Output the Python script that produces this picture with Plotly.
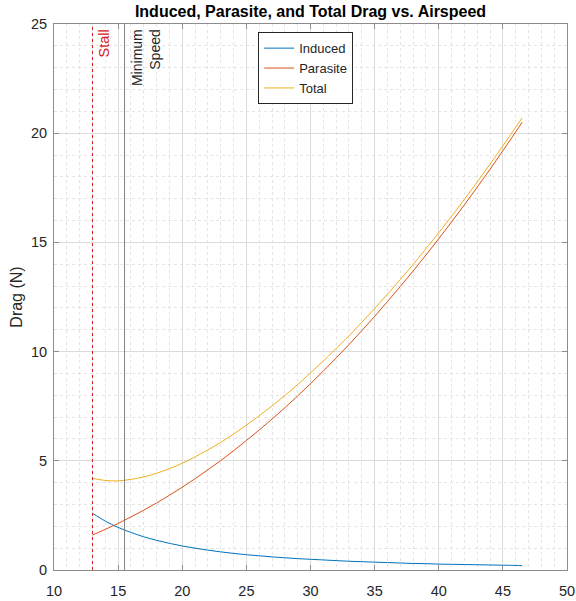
import plotly.graph_objects as go

# Airspeed samples (m/s) and drag components (N)
airspeed = [13, 14, 15, 16, 17, 18, 19, 20, 21, 22, 23, 24, 25, 26, 27, 28, 29, 30,
            31, 32, 33, 34, 35, 36, 37, 38, 39, 40, 41, 42, 43, 44, 45, 46, 46.5]
induced = [2.60, 2.24, 1.95, 1.72, 1.52, 1.36, 1.22, 1.10, 1.00, 0.91, 0.83, 0.76,
           0.70, 0.65, 0.60, 0.56, 0.52, 0.49, 0.46, 0.43, 0.40, 0.38, 0.36, 0.34,
           0.32, 0.30, 0.29, 0.27, 0.26, 0.25, 0.24, 0.23, 0.22, 0.21, 0.20]
parasite = [1.60, 1.86, 2.13, 2.43, 2.74, 3.07, 3.42, 3.79, 4.18, 4.59, 5.01, 5.46,
            5.93, 6.41, 6.91, 7.43, 7.97, 8.53, 9.11, 9.71, 10.32, 10.96, 11.61, 12.29,
            12.98, 13.69, 14.42, 15.17, 15.94, 16.72, 17.53, 18.35, 19.20, 20.06, 20.50]
total = [4.20, 4.10, 4.08, 4.15, 4.26, 4.43, 4.64, 4.89, 5.18, 5.50, 5.84, 6.22,
         6.63, 7.06, 7.51, 7.99, 8.49, 9.02, 9.57, 10.14, 10.72, 11.34, 11.97, 12.63,
         13.30, 13.99, 14.71, 15.44, 16.20, 16.97, 17.77, 18.58, 19.42, 20.27, 20.70]

stall_speed = 13.0
min_speed = 15.5

FONT = "Arial, Liberation Sans, sans-serif"

fig = go.Figure()
fig.add_trace(go.Scatter(x=airspeed, y=induced, mode="lines", name="Induced",
                         line=dict(color="#0072BD", width=1, shape="spline")))
fig.add_trace(go.Scatter(x=airspeed, y=parasite, mode="lines", name="Parasite",
                         line=dict(color="#D95319", width=1, shape="spline")))
fig.add_trace(go.Scatter(x=airspeed, y=total, mode="lines", name="Total",
                         line=dict(color="#EDB120", width=1, shape="spline")))

# Reference lines for stall and minimum speed
fig.add_shape(type="line", xref="x", yref="y", x0=stall_speed, x1=stall_speed, y0=0, y1=25,
              line=dict(color="#d62020", width=1, dash="dot"))
fig.add_shape(type="line", xref="x", yref="y", x0=min_speed, x1=min_speed, y0=0, y1=25,
              line=dict(color="#808080", width=1))

fig.add_annotation(x=stall_speed, y=1, xref="x", yref="paper", text="Stall",
                   textangle=-90, showarrow=False, xanchor="left", yanchor="top",
                   xshift=2, yshift=-3, font=dict(family=FONT, size=14.5, color="#d62020"))
fig.add_annotation(x=min_speed, y=1, xref="x", yref="paper", text="Minimum<br>Speed",
                   textangle=-90, showarrow=False, xanchor="left", yanchor="top", align="right",
                   xshift=2, yshift=-3, font=dict(family=FONT, size=14, color="#262626"))

axis_common = dict(
    showline=True, linecolor="#8c8c8c", linewidth=1, mirror="allticks",
    ticks="inside", ticklen=5, tickcolor="#8c8c8c",
    showgrid=True, gridcolor="#dcdcdc", gridwidth=1,
    zeroline=False, automargin=False,
    tickfont=dict(family=FONT, size=14.5, color="#262626"),
    minor=dict(dtick=1, showgrid=True, gridcolor="#e4e4e4", griddash="dot", gridwidth=1,
               ticks=""),
)

fig.update_xaxes(range=[10, 50], dtick=5, tick0=10, ticklabelstandoff=8, **axis_common)
fig.update_yaxes(range=[0, 25], dtick=5, tick0=0, ticklabelstandoff=3,
                 title=dict(text="Drag (N)", font=dict(family=FONT, size=16, color="#262626"),
                            standoff=4),
                 **axis_common)

fig.update_layout(
    width=576, height=601,
    margin=dict(l=54, r=9, t=24, b=31, autoexpand=False),
    plot_bgcolor="white", paper_bgcolor="white",
    title=dict(text="<b>Induced, Parasite, and Total Drag vs. Airspeed</b>",
               x=0.5, xref="paper", xanchor="center", y=0.99, yanchor="top",
               font=dict(family=FONT, size=16, color="black")),
    legend=dict(x=0.398, y=0.985, xanchor="left", yanchor="top",
                bgcolor="white", bordercolor="#262626", borderwidth=1,
                font=dict(family=FONT, size=13, color="#262626"),
                tracegroupgap=0),
    showlegend=True,
)

fig.write_html("out.html")
